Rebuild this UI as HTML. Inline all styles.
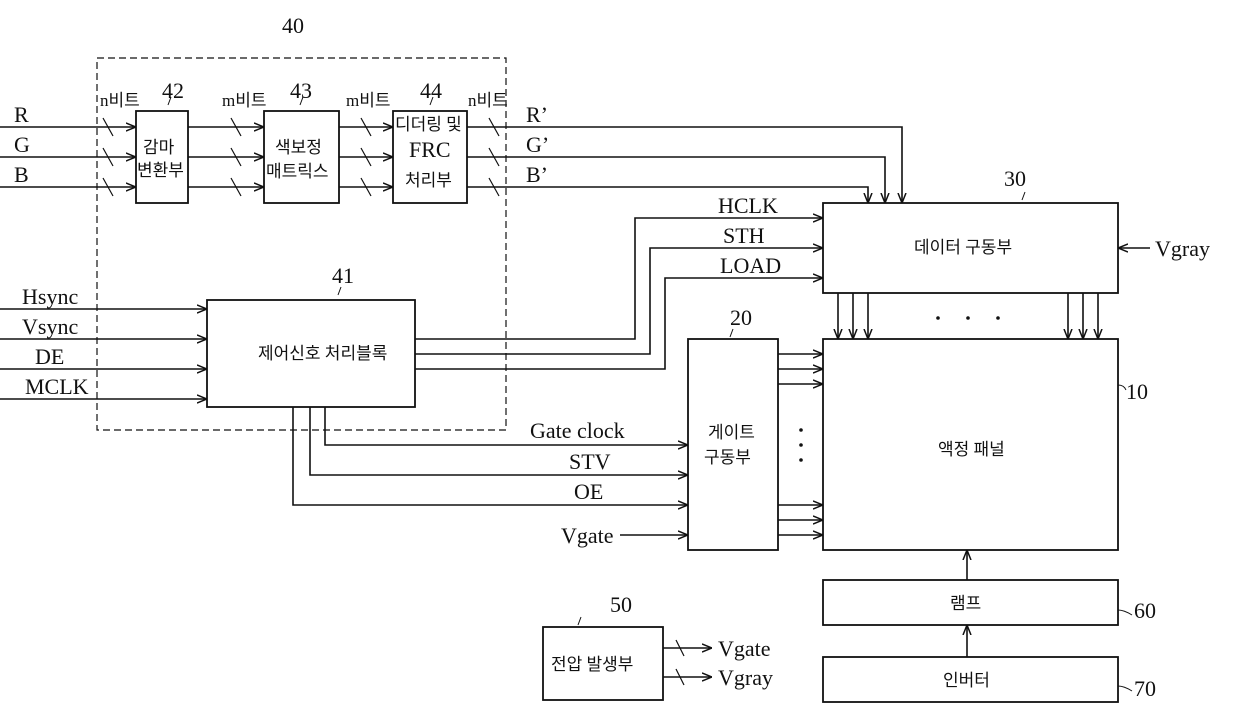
<!DOCTYPE html>
<html><head><meta charset="utf-8"><style>
html,body{margin:0;padding:0;background:#fff}
svg{display:block}
text{font-family:"Liberation Serif","Noto Sans CJK KR",serif;fill:#111}
.k{font-family:"Liberation Sans","Noto Sans CJK KR",sans-serif;font-size:17px}
.l{font-size:22px}
</style></head><body>
<svg width="1240" height="727" viewBox="0 0 1240 727" xmlns="http://www.w3.org/2000/svg">
<defs>
<marker id="a" viewBox="0 0 10 10" refX="10" refY="5" markerWidth="10" markerHeight="10" orient="auto" markerUnits="userSpaceOnUse"><path d="M0,1 L10,5 L0,9" fill="none" stroke="#111" stroke-width="1.5"/></marker>
</defs>
<g stroke="#111" stroke-width="1.8" fill="none">
<rect x="97" y="58" width="409" height="372" stroke-dasharray="7,4" stroke-width="1.2"/>
<rect x="136" y="111" width="52" height="92"/>
<rect x="264" y="111" width="75" height="92"/>
<rect x="393" y="111" width="74" height="92"/>
<rect x="823" y="203" width="295" height="90"/>
<rect x="207" y="300" width="208" height="107"/>
<rect x="688" y="339" width="90" height="211"/>
<rect x="823" y="339" width="295" height="211"/>
<rect x="823" y="580" width="295" height="45"/>
<rect x="823" y="657" width="295" height="45"/>
<rect x="543" y="627" width="120" height="73"/>
</g>
<g stroke="#111" stroke-width="1.6" fill="none" marker-end="url(#a)">
<path d="M0,127H136"/><path d="M0,157H136"/><path d="M0,187H136"/>
<path d="M188,127H264"/><path d="M188,157H264"/><path d="M188,187H264"/>
<path d="M339,127H393"/><path d="M339,157H393"/><path d="M339,187H393"/>
<path d="M467,127H902V203"/>
<path d="M467,157H885V203"/>
<path d="M467,187H868V203"/>
<path d="M0,309H207"/><path d="M0,339H207"/><path d="M0,369H207"/><path d="M0,399H207"/>
<path d="M415,339H635V218H823"/>
<path d="M415,354H650V248H823"/>
<path d="M415,369H665V278H823"/>
<path d="M325,407V445H688"/>
<path d="M310,407V475H688"/>
<path d="M293,407V505H688"/>
<path d="M620,535H688"/>
<path d="M1150,248H1118"/>
<path d="M838,293V339"/><path d="M853,293V339"/><path d="M868,293V339"/>
<path d="M1068,293V339"/><path d="M1083,293V339"/><path d="M1098,293V339"/>
<path d="M778,354H823"/><path d="M778,369H823"/><path d="M778,384H823"/>
<path d="M778,505H823"/><path d="M778,520H823"/><path d="M778,535H823"/>
<path d="M967,580V550"/><path d="M967,657V625"/>
<path d="M663,648H712"/><path d="M663,677H712"/>
</g>
<g stroke="#111" fill="none">
<path d="M103,118l10,18M103,148l10,18M103,178l10,18M231,118l10,18M231,148l10,18M231,178l10,18M361,118l10,18M361,148l10,18M361,178l10,18M489,118l10,18M489,148l10,18M489,178l10,18" stroke-width="1.2"/>
<path d="M676,640l8,16M676,669l8,16" stroke-width="1.2"/>
<path d="M1118,610q6,0 14,5M1118,686q6,0 14,5M1118,385q6,0 8,5M168,105l3,-8M300,105l3,-8M430,105l3,-8M338,295l3,-8M1022,200l3,-8M730,337l3,-8M578,625l3,-8" stroke-width="1"/>
</g>
<g fill="#111"><circle cx="938" cy="318" r="1.8"/><circle cx="968" cy="318" r="1.8"/><circle cx="998" cy="318" r="1.8"/><circle cx="801" cy="430" r="1.8"/><circle cx="801" cy="445" r="1.8"/><circle cx="801" cy="460" r="1.8"/></g>
<g class="l">
<text x="282" y="33">40</text><text x="162" y="98">42</text><text x="290" y="98">43</text><text x="420" y="98">44</text>
<text x="14" y="122">R</text><text x="14" y="152">G</text><text x="14" y="182">B</text>
<text x="526" y="122">R’</text><text x="526" y="152">G’</text><text x="526" y="182">B’</text>
<text x="1004" y="186">30</text><text x="332" y="283">41</text><text x="730" y="325">20</text>
<text x="1126" y="399">10</text><text x="1134" y="618">60</text><text x="1134" y="696">70</text><text x="610" y="612">50</text>
<text x="718" y="213">HCLK</text><text x="723" y="243">STH</text><text x="720" y="273">LOAD</text>
<text x="22" y="304">Hsync</text><text x="22" y="334">Vsync</text><text x="35" y="364">DE</text><text x="25" y="394">MCLK</text>
<text x="530" y="438">Gate clock</text><text x="569" y="469">STV</text><text x="574" y="499">OE</text><text x="561" y="543">Vgate</text>
<text x="1155" y="256">Vgray</text><text x="718" y="656">Vgate</text><text x="718" y="685">Vgray</text>
</g>
<g class="k">
<text x="100" y="106">n비트</text><text x="222" y="106">m비트</text><text x="346" y="106">m비트</text><text x="468" y="106">n비트</text>
<text x="143" y="153">감마</text><text x="137" y="176">변환부</text>
<text x="275" y="153">색보정</text><text x="266" y="177">매트릭스</text>
<text x="395" y="130">디더링 및</text><text x="409" y="157" class="l">FRC</text><text x="405" y="186">처리부</text>
<text x="914" y="253">데이터  구동부</text>
<text x="258" y="359">제어신호  처리블록</text>
<text x="708" y="438">게이트</text><text x="704" y="463">구동부</text>
<text x="938" y="455">액정  패널</text>
<text x="950" y="609">램프</text><text x="943" y="686">인버터</text>
<text x="551" y="670">전압  발생부</text>
</g>
</svg>
</body></html>
